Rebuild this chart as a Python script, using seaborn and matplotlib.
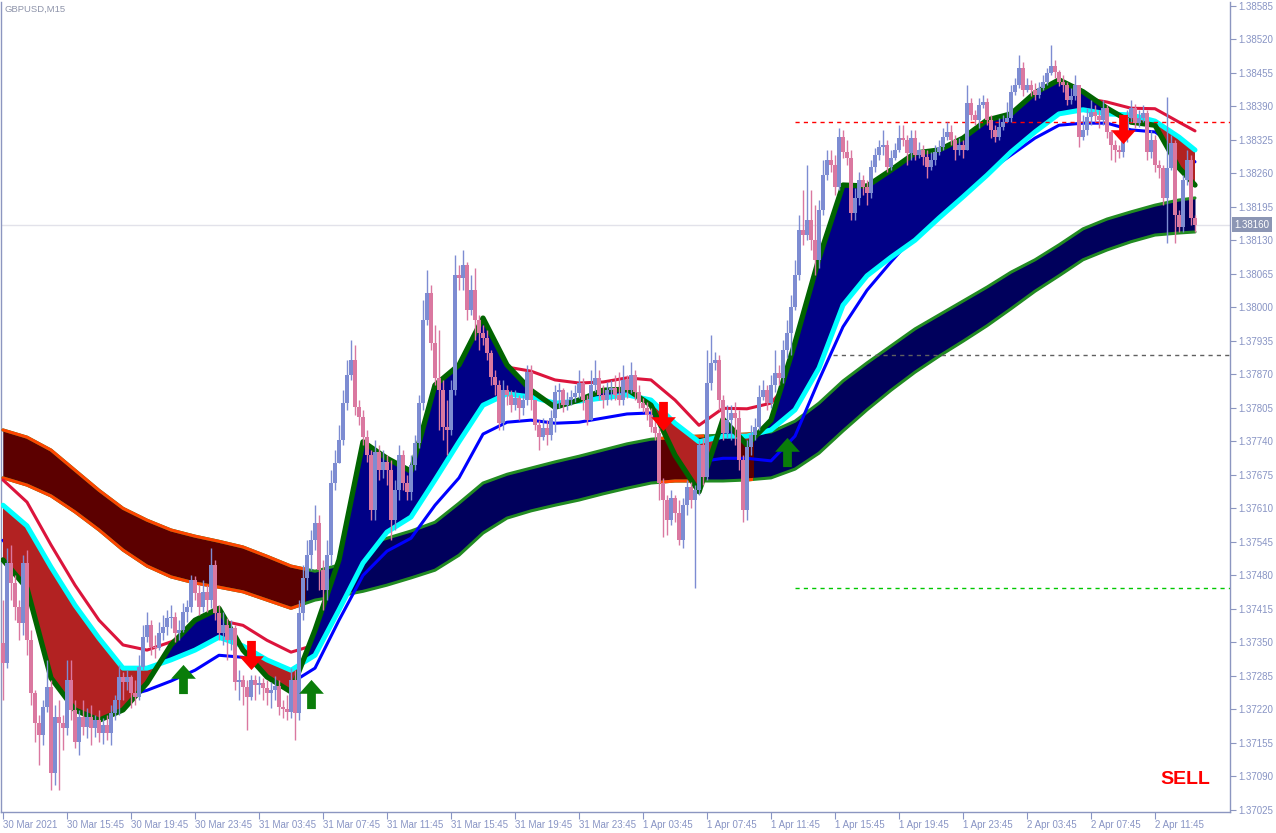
import numpy as np
import matplotlib
matplotlib.use("Agg")
import matplotlib.pyplot as plt
import seaborn as sns
from matplotlib.path import Path
from matplotlib.patches import Rectangle

# ---------------- data ----------------
symbol_title = "GBPUSD,M15"
first_open = 1.37349
close = [
    1.37310, 1.37504, 1.37465, 1.37418, 1.37387, 1.37504, 1.37354, 1.37252, 1.37193, 1.37170,
    1.37224, 1.37263, 1.37096, 1.37205, 1.37193, 1.37184, 1.37277, 1.37219, 1.37157, 1.37205,
    1.37186, 1.37205, 1.37184, 1.37199, 1.37174, 1.37189, 1.37174, 1.37213, 1.37238, 1.37283,
    1.37273, 1.37283, 1.37252, 1.37244, 1.37302, 1.37360, 1.37383, 1.37341, 1.37339, 1.37368,
    1.37380, 1.37397, 1.37399, 1.37368, 1.37374, 1.37409, 1.37418, 1.37471, 1.37446, 1.37418,
    1.37448, 1.37432, 1.37500, 1.37407, 1.37368, 1.37383, 1.37354, 1.37378, 1.37273, 1.37277,
    1.37263, 1.37244, 1.37277, 1.37267, 1.37271, 1.37261, 1.37252, 1.37257, 1.37265, 1.37224,
    1.37221, 1.37215, 1.37277, 1.37213, 1.37407, 1.37475, 1.37519, 1.37548, 1.37581, 1.37490,
    1.37451, 1.37519, 1.37659, 1.37698, 1.37742, 1.37814, 1.37868, 1.37898, 1.37806, 1.37787,
    1.37748, 1.37713, 1.37607, 1.37719, 1.37684, 1.37700, 1.37684, 1.37587, 1.37645, 1.37713,
    1.37659, 1.37642, 1.37694, 1.37737, 1.37814, 1.37975, 1.38028, 1.37931, 1.37863, 1.37839,
    1.37768, 1.37762, 1.37839, 1.38062, 1.38057, 1.38082, 1.37995, 1.38033, 1.37975, 1.37950,
    1.37940, 1.37911, 1.37865, 1.37849, 1.37775, 1.37839, 1.37830, 1.37810, 1.37824, 1.37804,
    1.37820, 1.37874, 1.37820, 1.37771, 1.37748, 1.37766, 1.37752, 1.37785, 1.37836, 1.37839,
    1.37810, 1.37820, 1.37826, 1.37834, 1.37853, 1.37820, 1.37781, 1.37849, 1.37863, 1.37830,
    1.37820, 1.37839, 1.37843, 1.37830, 1.37820, 1.37859, 1.37839, 1.37868, 1.37836, 1.37814,
    1.37804, 1.37791, 1.37768, 1.37756, 1.37659, 1.37626, 1.37587, 1.37630, 1.37601, 1.37548,
    1.37616, 1.37651, 1.37626, 1.37645, 1.37733, 1.37671, 1.37853, 1.37892, 1.37898, 1.37820,
    1.37756, 1.37781, 1.37795, 1.37785, 1.37704, 1.37607, 1.37729, 1.37752, 1.37768, 1.37826,
    1.37839, 1.37814, 1.37849, 1.37872, 1.37863, 1.37917, 1.37950, 1.38000, 1.38062, 1.38150,
    1.38140, 1.38169, 1.38130, 1.38092, 1.38189, 1.38256, 1.38286, 1.38276, 1.38233, 1.38330,
    1.38301, 1.38289, 1.38183, 1.38212, 1.38247, 1.38233, 1.38222, 1.38272, 1.38295, 1.38311,
    1.38315, 1.38272, 1.38289, 1.38305, 1.38328, 1.38324, 1.38299, 1.38328, 1.38295, 1.38305,
    1.38291, 1.38272, 1.38286, 1.38301, 1.38311, 1.38330, 1.38340, 1.38324, 1.38305, 1.38315,
    1.38305, 1.38396, 1.38373, 1.38363, 1.38392, 1.38398, 1.38363, 1.38344, 1.38330, 1.38350,
    1.38359, 1.38367, 1.38418, 1.38431, 1.38464, 1.38421, 1.38431, 1.38421, 1.38412, 1.38425,
    1.38437, 1.38454, 1.38468, 1.38456, 1.38437, 1.38431, 1.38402, 1.38410, 1.38431, 1.38330,
    1.38344, 1.38369, 1.38379, 1.38371, 1.38363, 1.38386, 1.38340, 1.38315, 1.38305, 1.38301,
    1.38328, 1.38367, 1.38386, 1.38357, 1.38367, 1.38377, 1.38301, 1.38324, 1.38276, 1.38270,
    1.38212, 1.38270, 1.38319, 1.38179, 1.38156, 1.38247, 1.38286, 1.38173, 1.38160,
]
high = [
    1.37432, 1.37533, 1.37539, 1.37480, 1.37432, 1.37519, 1.37529, 1.37374, 1.37257, 1.37209,
    1.37238, 1.37316, 1.37277, 1.37228, 1.37238, 1.37209, 1.37316, 1.37316, 1.37238, 1.37219,
    1.37238, 1.37222, 1.37228, 1.37209, 1.37219, 1.37203, 1.37209, 1.37228, 1.37248, 1.37306,
    1.37292, 1.37296, 1.37286, 1.37277, 1.37325, 1.37383, 1.37409, 1.37393, 1.37364, 1.37389,
    1.37403, 1.37413, 1.37422, 1.37409, 1.37393, 1.37426, 1.37432, 1.37480, 1.37479, 1.37461,
    1.37471, 1.37461, 1.37533, 1.37510, 1.37422, 1.37409, 1.37397, 1.37393, 1.37383, 1.37296,
    1.37286, 1.37277, 1.37286, 1.37286, 1.37285, 1.37281, 1.37277, 1.37273, 1.37285, 1.37277,
    1.37238, 1.37248, 1.37300, 1.37296, 1.37432, 1.37500, 1.37548, 1.37568, 1.37616, 1.37597,
    1.37510, 1.37548, 1.37684, 1.37723, 1.37771, 1.37839, 1.37898, 1.37936, 1.37927, 1.37820,
    1.37801, 1.37762, 1.37723, 1.37742, 1.37733, 1.37723, 1.37713, 1.37704, 1.37665, 1.37733,
    1.37723, 1.37674, 1.37713, 1.37752, 1.37830, 1.38014, 1.38072, 1.38043, 1.37965, 1.37956,
    1.37859, 1.37820, 1.37859, 1.38101, 1.38082, 1.38111, 1.38088, 1.38062, 1.38076, 1.37985,
    1.37965, 1.37956, 1.37917, 1.37878, 1.37859, 1.37859, 1.37849, 1.37839, 1.37839, 1.37830,
    1.37830, 1.37888, 1.37888, 1.37820, 1.37781, 1.37785, 1.37781, 1.37801, 1.37849, 1.37853,
    1.37843, 1.37836, 1.37839, 1.37849, 1.37878, 1.37863, 1.37830, 1.37878, 1.37898, 1.37878,
    1.37849, 1.37855, 1.37859, 1.37868, 1.37874, 1.37888, 1.37868, 1.37894, 1.37878, 1.37849,
    1.37824, 1.37816, 1.37804, 1.37781, 1.37766, 1.37669, 1.37636, 1.37645, 1.37636, 1.37626,
    1.37630, 1.37665, 1.37661, 1.37655, 1.37742, 1.37746, 1.37917, 1.37946, 1.37913, 1.37907,
    1.37830, 1.37810, 1.37810, 1.37816, 1.37801, 1.37713, 1.37742, 1.37771, 1.37785, 1.37849,
    1.37859, 1.37849, 1.37868, 1.37917, 1.37888, 1.37936, 1.37975, 1.38024, 1.38092, 1.38179,
    1.38227, 1.38276, 1.38227, 1.38198, 1.38208, 1.38286, 1.38305, 1.38305, 1.38295, 1.38348,
    1.38344, 1.38324, 1.38305, 1.38231, 1.38262, 1.38256, 1.38247, 1.38286, 1.38309, 1.38324,
    1.38344, 1.38324, 1.38305, 1.38319, 1.38353, 1.38353, 1.38334, 1.38344, 1.38344, 1.38321,
    1.38315, 1.38305, 1.38301, 1.38315, 1.38324, 1.38348, 1.38359, 1.38353, 1.38334, 1.38328,
    1.38324, 1.38431, 1.38406, 1.38383, 1.38406, 1.38412, 1.38406, 1.38373, 1.38353, 1.38367,
    1.38373, 1.38398, 1.38431, 1.38445, 1.38489, 1.38476, 1.38445, 1.38441, 1.38435, 1.38437,
    1.38450, 1.38464, 1.38509, 1.38480, 1.38460, 1.38450, 1.38437, 1.38425, 1.38450, 1.38421,
    1.38373, 1.38386, 1.38402, 1.38392, 1.38383, 1.38402, 1.38392, 1.38344, 1.38324, 1.38315,
    1.38348, 1.38383, 1.38402, 1.38394, 1.38383, 1.38392, 1.38383, 1.38344, 1.38334, 1.38286,
    1.38276, 1.38408, 1.38334, 1.38324, 1.38189, 1.38256, 1.38305, 1.38295, 1.38179,
]
low = [
    1.37238, 1.37300, 1.37432, 1.37393, 1.37354, 1.37364, 1.37325, 1.37228, 1.37157, 1.37112,
    1.37151, 1.37215, 1.37063, 1.37073, 1.37063, 1.37141, 1.37170, 1.37199, 1.37145, 1.37131,
    1.37170, 1.37164, 1.37151, 1.37166, 1.37157, 1.37153, 1.37160, 1.37151, 1.37199, 1.37209,
    1.37238, 1.37257, 1.37222, 1.37228, 1.37238, 1.37296, 1.37350, 1.37325, 1.37319, 1.37335,
    1.37354, 1.37364, 1.37378, 1.37350, 1.37354, 1.37370, 1.37389, 1.37409, 1.37432, 1.37403,
    1.37409, 1.37409, 1.37416, 1.37393, 1.37354, 1.37345, 1.37316, 1.37335, 1.37257, 1.37238,
    1.37228, 1.37180, 1.37238, 1.37238, 1.37250, 1.37238, 1.37228, 1.37222, 1.37238, 1.37209,
    1.37203, 1.37199, 1.37203, 1.37160, 1.37199, 1.37393, 1.37451, 1.37490, 1.37529, 1.37451,
    1.37413, 1.37432, 1.37500, 1.37645, 1.37700, 1.37733, 1.37801, 1.37859, 1.37791, 1.37771,
    1.37733, 1.37700, 1.37587, 1.37587, 1.37665, 1.37669, 1.37655, 1.37548, 1.37568, 1.37626,
    1.37645, 1.37626, 1.37626, 1.37684, 1.37727, 1.37801, 1.37966, 1.37917, 1.37849, 1.37762,
    1.37742, 1.37713, 1.37752, 1.37830, 1.38033, 1.38033, 1.37975, 1.37985, 1.37936, 1.37917,
    1.37927, 1.37898, 1.37849, 1.37830, 1.37762, 1.37762, 1.37810, 1.37797, 1.37801, 1.37781,
    1.37791, 1.37810, 1.37801, 1.37762, 1.37723, 1.37742, 1.37733, 1.37742, 1.37758, 1.37804,
    1.37797, 1.37801, 1.37810, 1.37816, 1.37824, 1.37801, 1.37771, 1.37781, 1.37836, 1.37820,
    1.37804, 1.37810, 1.37820, 1.37820, 1.37810, 1.37810, 1.37824, 1.37834, 1.37820, 1.37804,
    1.37797, 1.37781, 1.37758, 1.37742, 1.37626, 1.37554, 1.37558, 1.37577, 1.37583, 1.37539,
    1.37533, 1.37597, 1.37610, 1.37455, 1.37636, 1.37655, 1.37665, 1.37839, 1.37878, 1.37801,
    1.37742, 1.37746, 1.37742, 1.37733, 1.37684, 1.37583, 1.37587, 1.37713, 1.37742, 1.37762,
    1.37820, 1.37801, 1.37804, 1.37836, 1.37849, 1.37853, 1.37902, 1.37907, 1.37995, 1.38053,
    1.38121, 1.38130, 1.38111, 1.38062, 1.38076, 1.38179, 1.38247, 1.38262, 1.38218, 1.38227,
    1.38289, 1.38276, 1.38169, 1.38169, 1.38198, 1.38218, 1.38198, 1.38212, 1.38262, 1.38286,
    1.38295, 1.38262, 1.38266, 1.38286, 1.38301, 1.38313, 1.38276, 1.38286, 1.38286, 1.38289,
    1.38276, 1.38251, 1.38266, 1.38276, 1.38295, 1.38305, 1.38324, 1.38315, 1.38286, 1.38295,
    1.38289, 1.38305, 1.38363, 1.38353, 1.38348, 1.38386, 1.38353, 1.38328, 1.38321, 1.38324,
    1.38344, 1.38359, 1.38359, 1.38412, 1.38425, 1.38410, 1.38418, 1.38410, 1.38402, 1.38406,
    1.38421, 1.38431, 1.38450, 1.38445, 1.38429, 1.38418, 1.38392, 1.38394, 1.38402, 1.38311,
    1.38324, 1.38334, 1.38353, 1.38359, 1.38348, 1.38353, 1.38328, 1.38286, 1.38282, 1.38289,
    1.38291, 1.38321, 1.38359, 1.38348, 1.38350, 1.38359, 1.38286, 1.38289, 1.38262, 1.38251,
    1.38198, 1.38125, 1.38266, 1.38125, 1.38146, 1.38146, 1.38237, 1.38160, 1.38146,
]

# indicator lines, sampled at these bars
line_bars = [0, 6, 12, 18, 24, 30, 36, 42, 48, 54, 60, 66, 72, 78, 84, 90, 96, 102, 108, 114,
             120, 126, 132, 138, 144, 150, 156, 162, 168, 174, 180, 186, 192, 198, 204, 210, 216,
             222, 228, 234, 240, 246, 252, 258, 264, 270, 276, 282, 288, 294, 298]
slow_upper = [
    1.37762, 1.37748, 1.37723, 1.37684, 1.37645, 1.37610, 1.37587, 1.37568, 1.37556, 1.37546,
    1.37535, 1.37517, 1.37498, 1.37488, 1.37500, 1.37537, 1.37552, 1.37566, 1.37583, 1.37620,
    1.37659, 1.37676, 1.37688, 1.37700, 1.37711, 1.37723, 1.37735, 1.37744, 1.37748, 1.37750,
    1.37752, 1.37754, 1.37758, 1.37779, 1.37814, 1.37857, 1.37892, 1.37925, 1.37958, 1.37985,
    1.38012, 1.38039, 1.38068, 1.38092, 1.38121, 1.38152, 1.38171, 1.38185, 1.38198, 1.38208,
    1.38212]
slow_lower = [
    1.37669, 1.37655, 1.37634, 1.37603, 1.37568, 1.37529, 1.37498, 1.37477, 1.37465, 1.37457,
    1.37448, 1.37432, 1.37416, 1.37432, 1.37440, 1.37449, 1.37461, 1.37475, 1.37490, 1.37519,
    1.37562, 1.37591, 1.37605, 1.37616, 1.37626, 1.37638, 1.37649, 1.37659, 1.37663, 1.37663,
    1.37663, 1.37665, 1.37669, 1.37686, 1.37717, 1.37760, 1.37801, 1.37839, 1.37874, 1.37905,
    1.37934, 1.37964, 1.37997, 1.38031, 1.38061, 1.38092, 1.38111, 1.38127, 1.38140, 1.38144,
    1.38146]
bear_spans = [(-1.0, 75.5), (164.0, 175.3), (184.5, 187.5)]
crimson_line = [
    1.37665, 1.37622, 1.37539, 1.37461, 1.37393, 1.37345, 1.37335, 1.37351, 1.37374, 1.37393,
    1.37383, 1.37354, 1.37331, 1.37345, 1.37451, 1.37587, 1.37665, 1.37645, 1.37762, 1.37810,
    1.37863, 1.37884, 1.37876, 1.37859, 1.37853, 1.37855, 1.37863, 1.37859, 1.37820, 1.37771,
    1.37804, 1.37803, 1.37814, 1.37868, 1.37975, 1.38121, 1.38179, 1.38237, 1.38266, 1.38286,
    1.38315, 1.38344, 1.38367, 1.38392, 1.38412, 1.38406, 1.38398, 1.38386, 1.38385, 1.38359,
    1.38342]
cyan_line = [
    1.37616, 1.37576, 1.37496, 1.37422, 1.37358, 1.37300, 1.37300, 1.37316, 1.37335, 1.37360,
    1.37343, 1.37316, 1.37296, 1.37325, 1.37413, 1.37504, 1.37564, 1.37593, 1.37665, 1.37739,
    1.37810, 1.37832, 1.37826, 1.37814, 1.37818, 1.37824, 1.37830, 1.37820, 1.37775, 1.37739,
    1.37750, 1.37750, 1.37762, 1.37801, 1.37882, 1.38004, 1.38061, 1.38097, 1.38130, 1.38173,
    1.38214, 1.38256, 1.38301, 1.38340, 1.38375, 1.38383, 1.38375, 1.38373, 1.38361, 1.38330,
    1.38305]
blue_line = [
    1.37548, 1.37490, 1.37409, 1.37339, 1.37281, 1.37244, 1.37257, 1.37275, 1.37296, 1.37325,
    1.37321, 1.37296, 1.37271, 1.37300, 1.37393, 1.37480, 1.37527, 1.37552, 1.37616, 1.37669,
    1.37754, 1.37777, 1.37781, 1.37775, 1.37777, 1.37785, 1.37793, 1.37795, 1.37742, 1.37700,
    1.37707, 1.37707, 1.37702, 1.37750, 1.37859, 1.37962, 1.38033, 1.38088, 1.38140, 1.38185,
    1.38227, 1.38262, 1.38295, 1.38328, 1.38353, 1.38357, 1.38357, 1.38344, 1.38340, 1.38309,
    1.38282]
fast_line = [
    1.37510, 1.37455, 1.37281, 1.37219, 1.37199, 1.37219, 1.37271, 1.37345, 1.37393, 1.37416,
    1.37335, 1.37283, 1.37254, 1.37374, 1.37510, 1.37739, 1.37707, 1.37682, 1.37849, 1.37888,
    1.37979, 1.37888, 1.37839, 1.37806, 1.37820, 1.37839, 1.37841, 1.37810, 1.37713, 1.37642,
    1.37783, 1.37733, 1.37781, 1.37931, 1.38095, 1.38237, 1.38235, 1.38266, 1.38299, 1.38305,
    1.38328, 1.38363, 1.38375, 1.38416, 1.38441, 1.38418, 1.38386, 1.38359, 1.38353, 1.38270,
    1.38237]

buy_bars = [45, 77, 196]
buy_prices = [1.37279, 1.37250, 1.37719]
sell_bars = [62, 165, 280]
sell_prices = [1.37325, 1.37789, 1.38346]

level_prices = [1.38359, 1.37907, 1.37455]
level_start = [198, 207.5, 198]
level_colors = ["#FF0000", "#606060", "#00C800"]

signal_text = "SELL"
x_tick_bars = [0, 16, 32, 48, 64, 80, 96, 112, 128, 144, 160, 176, 192, 208, 224, 240, 256, 272, 288]
x_tick_labels = ["30 Mar 2021", "30 Mar 15:45", "30 Mar 19:45", "30 Mar 23:45", "31 Mar 03:45",
                 "31 Mar 07:45", "31 Mar 11:45", "31 Mar 15:45", "31 Mar 19:45", "31 Mar 23:45",
                 "1 Apr 03:45", "1 Apr 07:45", "1 Apr 11:45", "1 Apr 15:45", "1 Apr 19:45",
                 "1 Apr 23:45", "2 Apr 03:45", "2 Apr 07:45", "2 Apr 11:45"]
y_ticks = [1.37025, 1.37090, 1.37155, 1.37220, 1.37285, 1.37350, 1.37415, 1.37480, 1.37545,
           1.37610, 1.37675, 1.37740, 1.37805, 1.37870, 1.37935, 1.38000, 1.38065, 1.38130,
           1.38195, 1.38260, 1.38325, 1.38390, 1.38455, 1.38520, 1.38585]

# ---------------- style ----------------
sns.set_theme(style="white")
plt.rcParams["font.family"] = ["Liberation Sans", "DejaVu Sans"]

AX = "#8C96C0"
AXT = "#8894C4"
BULL = "#7D8CD2"
BEAR = "#DA78A0"

fig = plt.figure(figsize=(12.76, 8.33), dpi=100)
ax = fig.add_axes([1 / 1276, 21 / 833, 1229 / 1276, 810 / 833])
ax.set_facecolor("white")

lb = np.array(line_bars, dtype=float)
s_up = np.array(slow_upper)
s_lo = np.array(slow_lower)
cr = np.array(crimson_line)
cy = np.array(cyan_line)
bl = np.array(blue_line)
fs = np.array(fast_line)


def clip_to(artist, a, b):
    r = Rectangle((a, 1.30), b - a, 0.2, transform=ax.transData)
    artist.set_clip_path(r)


# current price line
last = close[-1]
ax.axhline(last, color="#E2E2EA", lw=1.0, zorder=1)

# slow band (bull navy / bear maroon)
ax.fill_between(lb, s_up, s_lo, color="#00005C", lw=0, zorder=2)
for a, b in bear_spans:
    poly = ax.fill_between(lb, s_up, s_lo, color="#5C0000", lw=0, zorder=2.1)
    clip_to(poly, a, b)
for arr in (s_up, s_lo):
    sns.lineplot(x=lb, y=arr, ax=ax, color="#228B22", linewidth=2.2, estimator=None,
                 sort=False, legend=False, zorder=3)
    for a, b in bear_spans:
        sns.lineplot(x=lb, y=arr, ax=ax, color="#FF4500", linewidth=2.2, estimator=None,
                     sort=False, legend=False, zorder=3.1)
        clip_to(ax.lines[-1], a, b)

# lines under the fast cloud
sns.lineplot(x=lb, y=cr, ax=ax, color="#DC143C", linewidth=2.2, estimator=None, sort=False,
             legend=False, zorder=4)
sns.lineplot(x=lb, y=bl, ax=ax, color="#0000FF", linewidth=2.2, estimator=None, sort=False,
             legend=False, zorder=4)

# fast cloud
ax.fill_between(lb, fs, cy, where=fs >= cy, interpolate=True, color="#000086", lw=0, zorder=5)
ax.fill_between(lb, fs, cy, where=fs < cy, interpolate=True, color="#B22222", lw=0, zorder=5)
sns.lineplot(x=lb, y=cy, ax=ax, color="#00FFFF", linewidth=3.6, estimator=None, sort=False,
             legend=False, zorder=6)
sns.lineplot(x=lb, y=fs, ax=ax, color="#006400", linewidth=3.8, estimator=None, sort=False,
             legend=False, zorder=6.5)

# horizontal levels
xmax = 306.75
for p, s, c in zip(level_prices, level_start, level_colors):
    ax.hlines(p, s, xmax, colors=c, linestyles=(0, (3, 3)), lw=1.0, zorder=7)

# candles
c = np.array(close)
o = np.array([first_open] + close[:-1])
h = np.maximum(np.array(high), np.maximum(o, c))
l = np.minimum(np.array(low), np.minimum(o, c))
x = np.arange(len(c))
bull = c >= o
lo_b = np.minimum(o, c)
hgt = np.maximum(np.abs(c - o), 0.000022)
for m, col in ((bull, BULL), (~bull, BEAR)):
    ax.vlines(x[m], l[m], h[m], colors=col, lw=1.0, zorder=8)
    ax.bar(x[m], hgt[m], bottom=lo_b[m], width=0.78, color=col, lw=0, zorder=8.1)

# arrows
up_v = [(-0.3, -1), (0.3, -1), (0.3, 0.05), (0.85, 0.05), (0, 1), (-0.85, 0.05), (-0.3, 0.05), (-0.3, -1)]
codes = [Path.MOVETO] + [Path.LINETO] * 6 + [Path.CLOSEPOLY]
up_arrow = Path(up_v, codes)
down_arrow = Path([(vx, -vy) for vx, vy in up_v], codes)
ax.plot(buy_bars, buy_prices, ls="none", marker=up_arrow, ms=21, color="#0A7D0A", mew=0, zorder=9)
ax.plot(sell_bars, sell_prices, ls="none", marker=down_arrow, ms=21, color="#FF0000", mew=0, zorder=9)

# axes
ax.set_xlim(-0.5, xmax)
ax.set_ylim(1.37021, 1.38592)
ax.set_xlabel("")
ax.set_ylabel("")
for s in ("left", "bottom", "right"):
    ax.spines[s].set_color(AX)
    ax.spines[s].set_linewidth(1.0)
ax.spines["top"].set_visible(False)

ax.set_yticks(y_ticks)
ax.set_yticklabels([f"{v:.5f}" for v in y_ticks])
ax.tick_params(axis="y", left=False, right=True, labelleft=False, labelright=True,
               direction="out", length=4, width=0.8, pad=2, colors=AXT, labelsize=7)
ax.set_xticks(x_tick_bars)
ax.set_xticklabels(x_tick_labels, ha="left")
ax.tick_params(axis="x", bottom=True, direction="out", length=5, width=0.8, pad=1,
               colors=AXT, labelsize=7)
ax.tick_params(axis="y", colors=AX)
for t in ax.get_yticklabels() + ax.get_xticklabels():
    t.set_color(AXT)

# current price tag
ax.text(1.0035, last, f"{last:.5f}", transform=ax.get_yaxis_transform(), ha="left",
        va="center", fontsize=7, color="white", zorder=20, clip_on=False,
        bbox=dict(boxstyle="square,pad=0.25", fc="#8C96B4", ec="none"))

fig.text(5 / 1276, 1 - 9 / 833, symbol_title, ha="left", va="center", fontsize=6.8, color="#8E94AA")
fig.text(1160 / 1276, 1 - 779 / 833, signal_text, ha="left", va="center", fontsize=14,
         fontweight="bold", color="#FF0000")

fig.savefig("out.png", dpi=100, facecolor="white")
